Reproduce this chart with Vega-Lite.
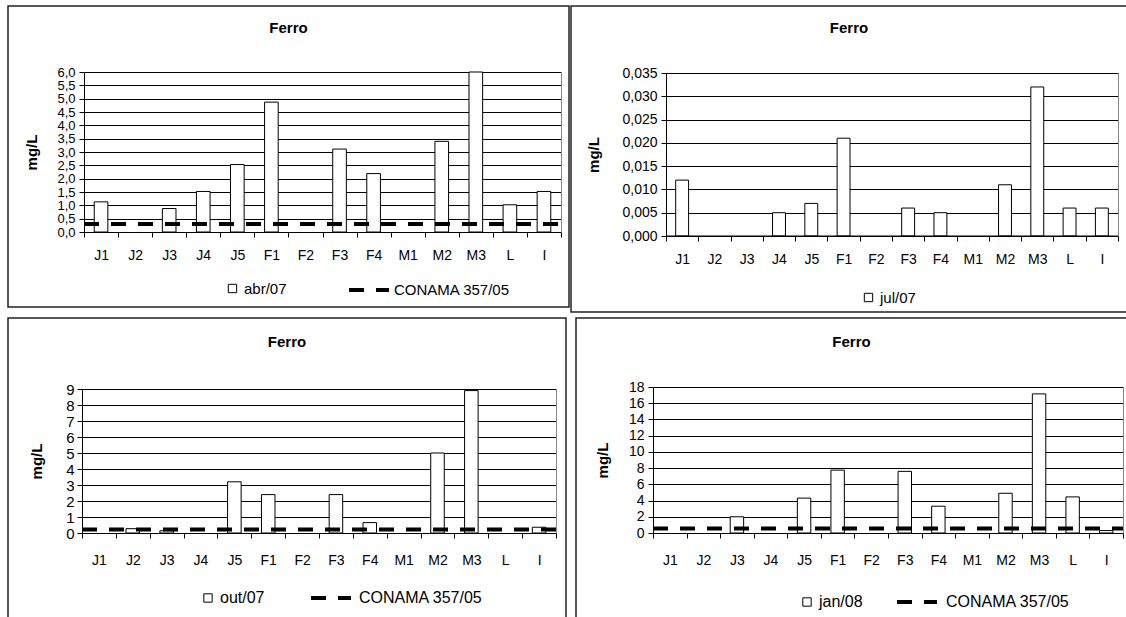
{
  "$schema": "https://vega.github.io/schema/vega-lite/v6.json",
  "background": "white",
  "padding": {"left": 7, "top": 5, "right": 0, "bottom": 0},
  "datasets": {
    "abr07": [
      {"site": "J1", "value": 1.13, "series": "abr/07"},
      {"site": "J3", "value": 0.88, "series": "abr/07"},
      {"site": "J4", "value": 1.52, "series": "abr/07"},
      {"site": "J5", "value": 2.53, "series": "abr/07"},
      {"site": "F1", "value": 4.87, "series": "abr/07"},
      {"site": "F3", "value": 3.11, "series": "abr/07"},
      {"site": "F4", "value": 2.19, "series": "abr/07"},
      {"site": "M2", "value": 3.4, "series": "abr/07"},
      {"site": "M3", "value": 6.0, "series": "abr/07"},
      {"site": "L", "value": 1.02, "series": "abr/07"},
      {"site": "I", "value": 1.52, "series": "abr/07"}
    ],
    "jul07": [
      {"site": "J1", "value": 0.012, "series": "jul/07"},
      {"site": "J4", "value": 0.005, "series": "jul/07"},
      {"site": "J5", "value": 0.007, "series": "jul/07"},
      {"site": "F1", "value": 0.021, "series": "jul/07"},
      {"site": "F3", "value": 0.006, "series": "jul/07"},
      {"site": "F4", "value": 0.005, "series": "jul/07"},
      {"site": "M2", "value": 0.011, "series": "jul/07"},
      {"site": "M3", "value": 0.032, "series": "jul/07"},
      {"site": "L", "value": 0.006, "series": "jul/07"},
      {"site": "I", "value": 0.006, "series": "jul/07"}
    ],
    "out07": [
      {"site": "J2", "value": 0.27, "series": "out/07"},
      {"site": "J3", "value": 0.14, "series": "out/07"},
      {"site": "J5", "value": 3.2, "series": "out/07"},
      {"site": "F1", "value": 2.4, "series": "out/07"},
      {"site": "F3", "value": 2.4, "series": "out/07"},
      {"site": "F4", "value": 0.65, "series": "out/07"},
      {"site": "M2", "value": 5.0, "series": "out/07"},
      {"site": "M3", "value": 8.9, "series": "out/07"},
      {"site": "I", "value": 0.36, "series": "out/07"}
    ],
    "jan08": [
      {"site": "J3", "value": 2.0, "series": "jan/08"},
      {"site": "J5", "value": 4.3, "series": "jan/08"},
      {"site": "F1", "value": 7.75, "series": "jan/08"},
      {"site": "F3", "value": 7.6, "series": "jan/08"},
      {"site": "F4", "value": 3.3, "series": "jan/08"},
      {"site": "M2", "value": 4.9, "series": "jan/08"},
      {"site": "M3", "value": 17.15, "series": "jan/08"},
      {"site": "L", "value": 4.45, "series": "jan/08"},
      {"site": "I", "value": 0.3, "series": "jan/08"}
    ],
    "lim1": [{"ref": "CONAMA 357/05", "lim": 0.3}],
    "lim2": [{"base": 0}],
    "lim3": [{"ref": "CONAMA 357/05", "lim": 0.22}],
    "lim4": [{"ref": "CONAMA 357/05", "lim": 0.55}]
  },
  "spacing": 4,
  "resolve": {"scale": {"fill": "independent", "strokeDash": "independent"}},
  "vconcat": [
    {
      "spacing": 0,
      "resolve": {"scale": {"fill": "independent", "strokeDash": "independent"}},
      "hconcat": [
        {
          "width": 561, "height": 301,
          "title": {"text": "Ferro", "offset": -37, "baseline": "middle", "anchor": "middle", "fontSize": 15, "fontWeight": "bold", "font": "Liberation Sans", "color": "#000"},
          "resolve": {"scale": {"x": "independent"}, "axis": {"x": "independent", "y": "independent"}},
          "layer": [
            {
              "data": {"name": "abr07"},
              "mark": {"type": "bar", "stroke": "#000", "strokeWidth": 1, "width": {"band": 0.4}},
              "encoding": {
                "x": {"field": "site", "type": "nominal", "sort": null,
                  "scale": {"domain": ["J1","J2","J3","J4","J5","F1","F2","F3","F4","M1","M2","M3","L","I"], "range": [76, 553], "paddingInner": 0, "paddingOuter": 0},
                  "axis": {"title": null, "orient": "bottom", "offset": -75, "tickBand": "extent", "tickSize": 5, "labelPadding": 11, "labelAngle": 0, "labelFontSize": 14, "grid": false, "domainColor": "#000", "tickColor": "#000", "labelColor": "#000"}},
                "y": {"field": "value", "type": "quantitative",
                  "scale": {"domain": [0, 6], "range": [226, 66], "nice": false, "zero": true},
                  "axis": {"title": "mg/L", "orient": "left", "offset": -76, "values": [0,0.5,1,1.5,2,2.5,3,3.5,4,4.5,5,5.5,6], "labelOverlap": false, "labelExpr": "replace(format(datum.value, '.1f'), '.', ',')", "tickSize": 5, "labelPadding": 4, "labelFontSize": 13, "titleFontSize": 15, "titleFontWeight": "bold", "titlePadding": 17, "grid": true, "gridColor": "#000", "gridWidth": 1, "domainColor": "#000", "tickColor": "#000", "labelColor": "#000", "titleColor": "#000"}},
                "fill": {"field": "series", "type": "nominal", "scale": {"range": ["white"]},
                  "legend": {"orient": "none", "legendX": 217, "legendY": 275, "title": null, "symbolType": "square", "symbolSize": 70, "symbolStrokeColor": "#000", "symbolStrokeWidth": 1, "labelFontSize": 15, "labelOffset": 4, "labelColor": "#000"}}
              }
            },
            {
              "data": {"name": "lim1"},
              "mark": {"type": "rule", "strokeWidth": 4, "color": "#000"},
              "encoding": {
                "x": {"datum": 0, "type": "quantitative", "scale": {"domain": [0, 1], "range": [76, 553], "nice": false, "zero": false}, "axis": null},
                "x2": {"datum": 1},
                "y": {"field": "lim", "type": "quantitative",
                  "scale": {"domain": [0, 6], "range": [226, 66], "nice": false, "zero": true},
                  "axis": {"orient": "right", "offset": -8, "labels": false, "ticks": false, "grid": false, "title": null, "domainColor": "#888", "domainWidth": 1}},
                "strokeDash": {"field": "ref", "type": "nominal", "scale": {"range": [[15, 12]]},
                  "legend": {"orient": "none", "legendX": 339, "legendY": 262, "title": null, "symbolType": "stroke", "symbolSize": 1600, "symbolStrokeWidth": 4, "symbolStrokeColor": "#000", "labelFontSize": 15, "labelOffset": 3, "labelColor": "#000"}}
              }
            }
          ]
        },
        {
          "width": 556, "height": 306,
          "title": {"text": "Ferro", "offset": -37, "baseline": "middle", "anchor": "middle", "fontSize": 15, "fontWeight": "bold", "font": "Liberation Sans", "color": "#000"},
          "resolve": {"scale": {"x": "independent"}, "axis": {"x": "independent", "y": "independent"}},
          "layer": [
            {
              "data": {"name": "jul07"},
              "mark": {"type": "bar", "stroke": "#000", "strokeWidth": 1, "width": {"band": 0.4}},
              "encoding": {
                "x": {"field": "site", "type": "nominal", "sort": null,
                  "scale": {"domain": ["J1","J2","J3","J4","J5","F1","F2","F3","F4","M1","M2","M3","L","I"], "range": [95, 547], "paddingInner": 0, "paddingOuter": 0},
                  "axis": {"title": null, "orient": "bottom", "offset": -76, "tickBand": "extent", "tickSize": 5, "labelPadding": 11, "labelAngle": 0, "labelFontSize": 14, "grid": false, "domainColor": "#000", "tickColor": "#000", "labelColor": "#000"}},
                "y": {"field": "value", "type": "quantitative",
                  "scale": {"domain": [0, 0.035], "range": [230, 67], "nice": false, "zero": true},
                  "axis": {"title": "mg/L", "orient": "left", "offset": -95, "values": [0,0.005,0.01,0.015,0.02,0.025,0.03,0.035], "labelOverlap": false, "labelExpr": "replace(format(datum.value, '.3f'), '.', ',')", "tickSize": 5, "labelPadding": 4, "labelFontSize": 14, "titleFontSize": 15, "titleFontWeight": "bold", "titlePadding": 20, "grid": true, "gridColor": "#000", "gridWidth": 1, "domainColor": "#000", "tickColor": "#000", "labelColor": "#000", "titleColor": "#000"}},
                "fill": {"field": "series", "type": "nominal", "scale": {"range": ["white"]},
                  "legend": {"orient": "none", "legendX": 290, "legendY": 284, "title": null, "symbolType": "square", "symbolSize": 70, "symbolStrokeColor": "#000", "symbolStrokeWidth": 1, "labelFontSize": 15, "labelOffset": 4, "labelColor": "#000"}}
              }
            },
            {
              "data": {"name": "lim2"},
              "mark": {"type": "rule", "strokeWidth": 1, "color": "#000"},
              "encoding": {
                "x": {"datum": 0, "type": "quantitative", "scale": {"domain": [0, 1], "range": [95, 547], "nice": false, "zero": false}, "axis": null},
                "x2": {"datum": 1},
                "y": {"field": "base", "type": "quantitative",
                  "scale": {"domain": [0, 0.035], "range": [230, 67], "nice": false, "zero": true},
                  "axis": {"orient": "right", "offset": -9, "labels": false, "ticks": false, "grid": false, "title": null, "domainColor": "#888", "domainWidth": 1}}
              }
            }
          ]
        }
      ]
    },
    {
      "spacing": 8,
      "resolve": {"scale": {"fill": "independent", "strokeDash": "independent"}},
      "hconcat": [
        {
          "width": 558, "height": 302,
          "title": {"text": "Ferro", "offset": -39, "baseline": "middle", "anchor": "middle", "fontSize": 15, "fontWeight": "bold", "font": "Liberation Sans", "color": "#000"},
          "resolve": {"scale": {"x": "independent"}, "axis": {"x": "independent", "y": "independent"}},
          "layer": [
            {
              "data": {"name": "out07"},
              "mark": {"type": "bar", "stroke": "#000", "strokeWidth": 1, "width": {"band": 0.4}},
              "encoding": {
                "x": {"field": "site", "type": "nominal", "sort": null,
                  "scale": {"domain": ["J1","J2","J3","J4","J5","F1","F2","F3","F4","M1","M2","M3","L","I"], "range": [74, 548], "paddingInner": 0, "paddingOuter": 0},
                  "axis": {"title": null, "orient": "bottom", "offset": -87, "tickBand": "extent", "tickSize": 5, "labelPadding": 15, "labelAngle": 0, "labelFontSize": 14, "grid": false, "domainColor": "#000", "tickColor": "#000", "labelColor": "#000"}},
                "y": {"field": "value", "type": "quantitative",
                  "scale": {"domain": [0, 9], "range": [215, 71], "nice": false, "zero": true},
                  "axis": {"title": "mg/L", "orient": "left", "offset": -74, "values": [0,1,2,3,4,5,6,7,8,9], "labelOverlap": false, "format": "d", "tickSize": 5, "labelPadding": 3, "labelFontSize": 15, "titleFontSize": 15, "titleFontWeight": "bold", "titlePadding": 21, "grid": true, "gridColor": "#000", "gridWidth": 1, "domainColor": "#000", "tickColor": "#000", "labelColor": "#000", "titleColor": "#000"}},
                "fill": {"field": "series", "type": "nominal", "scale": {"range": ["white"]},
                  "legend": {"orient": "none", "legendX": 192, "legendY": 272, "title": null, "symbolType": "square", "symbolSize": 70, "symbolStrokeColor": "#000", "symbolStrokeWidth": 1, "labelFontSize": 16, "labelOffset": 4, "labelColor": "#000"}}
              }
            },
            {
              "data": {"name": "lim3"},
              "mark": {"type": "rule", "strokeWidth": 4, "color": "#000"},
              "encoding": {
                "x": {"datum": 0, "type": "quantitative", "scale": {"domain": [0, 1], "range": [74, 548], "nice": false, "zero": false}, "axis": null},
                "x2": {"datum": 1},
                "y": {"field": "lim", "type": "quantitative",
                  "scale": {"domain": [0, 9], "range": [215, 71], "nice": false, "zero": true},
                  "axis": {"orient": "right", "offset": -10, "labels": false, "ticks": false, "grid": false, "title": null, "domainColor": "#888", "domainWidth": 1}},
                "strokeDash": {"field": "ref", "type": "nominal", "scale": {"range": [[15, 12]]},
                  "legend": {"orient": "none", "legendX": 301, "legendY": 258, "title": null, "symbolType": "stroke", "symbolSize": 1600, "symbolStrokeWidth": 4, "symbolStrokeColor": "#000", "labelFontSize": 16, "labelOffset": 6, "labelColor": "#000"}}
              }
            }
          ]
        },
        {
          "width": 551, "height": 302,
          "title": {"text": "Ferro", "offset": -39, "baseline": "middle", "anchor": "middle", "fontSize": 15, "fontWeight": "bold", "font": "Liberation Sans", "color": "#000"},
          "resolve": {"scale": {"x": "independent"}, "axis": {"x": "independent", "y": "independent"}},
          "layer": [
            {
              "data": {"name": "jan08"},
              "mark": {"type": "bar", "stroke": "#000", "strokeWidth": 1, "width": {"band": 0.4}},
              "encoding": {
                "x": {"field": "site", "type": "nominal", "sort": null,
                  "scale": {"domain": ["J1","J2","J3","J4","J5","F1","F2","F3","F4","M1","M2","M3","L","I"], "range": [77, 547], "paddingInner": 0, "paddingOuter": 0},
                  "axis": {"title": null, "orient": "bottom", "offset": -87, "tickBand": "extent", "tickSize": 5, "labelPadding": 15, "labelAngle": 0, "labelFontSize": 14, "grid": false, "domainColor": "#000", "tickColor": "#000", "labelColor": "#000"}},
                "y": {"field": "value", "type": "quantitative",
                  "scale": {"domain": [0, 18], "range": [215, 69], "nice": false, "zero": true},
                  "axis": {"title": "mg/L", "orient": "left", "offset": -77, "values": [0,2,4,6,8,10,12,14,16,18], "labelOverlap": false, "format": "d", "tickSize": 5, "labelPadding": 4, "labelFontSize": 14, "titleFontSize": 15, "titleFontWeight": "bold", "titlePadding": 18, "grid": true, "gridColor": "#000", "gridWidth": 1, "domainColor": "#000", "tickColor": "#000", "labelColor": "#000", "titleColor": "#000"}},
                "fill": {"field": "series", "type": "nominal", "scale": {"range": ["white"]},
                  "legend": {"orient": "none", "legendX": 223, "legendY": 276, "title": null, "symbolType": "square", "symbolSize": 70, "symbolStrokeColor": "#000", "symbolStrokeWidth": 1, "labelFontSize": 16, "labelOffset": 4, "labelColor": "#000"}}
              }
            },
            {
              "data": {"name": "lim4"},
              "mark": {"type": "rule", "strokeWidth": 4, "color": "#000"},
              "encoding": {
                "x": {"datum": 0, "type": "quantitative", "scale": {"domain": [0, 1], "range": [77, 547], "nice": false, "zero": false}, "axis": null},
                "x2": {"datum": 1},
                "y": {"field": "lim", "type": "quantitative",
                  "scale": {"domain": [0, 18], "range": [215, 69], "nice": false, "zero": true},
                  "axis": {"orient": "right", "offset": -4, "labels": false, "ticks": false, "grid": false, "title": null, "domainColor": "#888", "domainWidth": 1}},
                "strokeDash": {"field": "ref", "type": "nominal", "scale": {"range": [[15, 12]]},
                  "legend": {"orient": "none", "legendX": 319, "legendY": 262, "title": null, "symbolType": "stroke", "symbolSize": 1600, "symbolStrokeWidth": 4, "symbolStrokeColor": "#000", "labelFontSize": 16, "labelOffset": 7, "labelColor": "#000"}}
              }
            }
          ]
        }
      ]
    }
  ],
  "config": {
    "font": "Liberation Sans",
    "view": {"stroke": "#222", "strokeWidth": 1.5},
    "axis": {"labelFont": "Liberation Sans", "titleFont": "Liberation Sans"},
    "legend": {"labelFont": "Liberation Sans"},
    "title": {"font": "Liberation Sans"}
  }
}
